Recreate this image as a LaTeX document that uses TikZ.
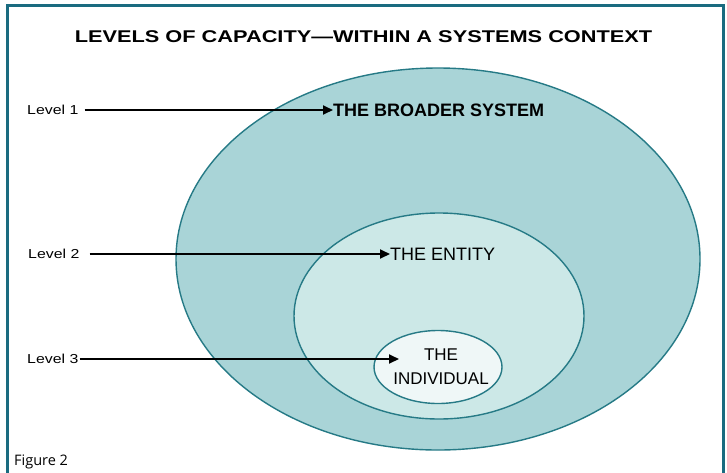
\documentclass[tikz,border=0pt]{standalone}
\usepackage{fontspec}
\setmainfont{Liberation Sans}
\newfontfamily\figfont{Open Sans}
\usetikzlibrary{arrows.meta,shapes.geometric}
\definecolor{frameteal}{HTML}{1A6B80}
\definecolor{ringline}{HTML}{267A86}
\definecolor{outerfill}{HTML}{A9D4D7}
\definecolor{midfill}{HTML}{CCE8E7}
\definecolor{innerfill}{HTML}{EFF7F7}
\tikzset{
  ring/.style={ellipse, draw=ringline, line width=1.4pt, inner sep=0pt},
  lvl/.style={font=\fontsize{13}{15}\selectfont, inner sep=0pt, anchor=west, xscale=1.22},
  tag/.style={font=\fontsize{18}{20}\selectfont, inner sep=0pt, anchor=west},
  ptr/.style={-{Triangle[length=10pt,width=9pt]}, line width=1.8pt, black},
}
\begin{document}
\begin{tikzpicture}[x=1pt,y=-1pt]
\useasboundingbox (0,0) rectangle (727,472);
\fill[white] (0,0) rectangle (727,472);
\draw[frameteal, line width=2.5pt] (7.5,480) -- (7.5,5.5) -- (723.5,5.5) -- (723.5,480);
\node[xscale=1.28, inner sep=0pt] (title) at (363.5,37) {\bfseries\fontsize{17}{19}\selectfont LEVELS OF CAPACITY\textemdash WITHIN A SYSTEMS CONTEXT};
\node[ring, fill=outerfill, minimum width=524pt, minimum height=382pt] (outer) at (438,259) {};
\node[ring, fill=midfill, minimum width=290pt, minimum height=206pt] (mid) at (439,316) {};
\node[ring, fill=innerfill, minimum width=128pt, minimum height=73pt] (inner) at (438,367) {};
\node[tag, font=\bfseries\fontsize{18}{20}\selectfont] (broad) at (333,110) {THE BROADER SYSTEM};
\node[tag] (entity) at (390,254) {THE ENTITY};
\node[font=\fontsize{17}{24}\selectfont, align=center, inner sep=0pt] (indiv) at (441,366.5) {THE\\INDIVIDUAL};
\coordinate (tip3) at (399,359);
\node[lvl] (l1) at (27,110) {Level 1};
\node[lvl] (l2) at (28,254) {Level 2};
\node[lvl] (l3) at (27,359) {Level 3};
\draw[ptr, shorten <=6pt] (l1.east) -- (broad.west);
\draw[ptr, shorten <=10pt] (l2.east) -- (entity.west);
\draw[ptr, shorten <=1pt] (l3.east) -- (tip3);
\node[font=\figfont\fontsize{14.5}{16}\selectfont, anchor=west, inner sep=0pt] (fig) at (14,462) {Figure 2};
\end{tikzpicture}
\end{document}
